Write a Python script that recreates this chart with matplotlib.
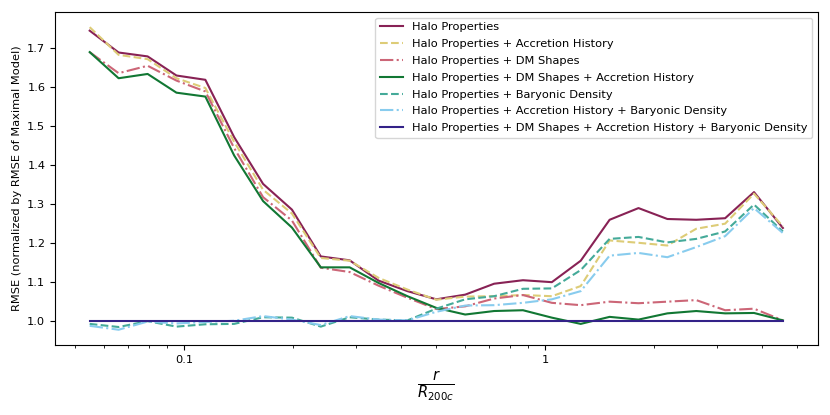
import matplotlib
matplotlib.use("Agg")
import matplotlib.pyplot as plt

plt.rcParams['font.size'] = 8.2

# radial bin centres, r / R200c
r = [0.0548, 0.0659, 0.0793, 0.0953, 0.1146, 0.1377, 0.1656, 0.1991, 0.2393,
     0.2877, 0.3459, 0.4159, 0.5000, 0.6012, 0.7228, 0.8690, 1.0447, 1.2560,
     1.5101, 1.8155, 2.1827, 2.6242, 3.1550, 3.7931, 4.5604]

halo = [1.745, 1.689, 1.679, 1.630, 1.619, 1.472, 1.352, 1.286, 1.166, 1.156,
        1.104, 1.077, 1.056, 1.068, 1.096, 1.105, 1.100, 1.155, 1.260, 1.290,
        1.262, 1.260, 1.264, 1.331, 1.239]
halo_acc = [1.754, 1.683, 1.672, 1.623, 1.598, 1.460, 1.337, 1.276, 1.162, 1.155,
            1.111, 1.081, 1.055, 1.063, 1.064, 1.067, 1.064, 1.090, 1.207, 1.201,
            1.194, 1.237, 1.250, 1.327, 1.243]
halo_dm = [1.690, 1.636, 1.655, 1.617, 1.589, 1.444, 1.318, 1.258, 1.137, 1.126,
           1.091, 1.060, 1.031, 1.038, 1.058, 1.067, 1.047, 1.041, 1.050, 1.046,
           1.050, 1.054, 1.028, 1.032, 1.002]
halo_dm_acc = [1.690, 1.623, 1.634, 1.586, 1.576, 1.425, 1.308, 1.240, 1.138, 1.138,
               1.098, 1.064, 1.034, 1.017, 1.026, 1.028, 1.009, 0.993, 1.011, 1.004,
               1.020, 1.026, 1.020, 1.021, 1.002]
halo_bary = [0.993, 0.985, 1.000, 0.986, 0.992, 0.993, 1.010, 1.009, 0.986, 1.010,
             1.004, 1.002, 1.032, 1.056, 1.064, 1.083, 1.084, 1.131, 1.211, 1.216,
             1.202, 1.211, 1.230, 1.299, 1.230]
halo_acc_bary = [0.988, 0.978, 0.999, 0.994, 0.998, 1.001, 1.013, 1.004, 0.990, 1.013,
                 1.004, 1.002, 1.024, 1.040, 1.041, 1.047, 1.056, 1.077, 1.168, 1.175,
                 1.164, 1.190, 1.218, 1.290, 1.226]
maximal = [1.0, 1.0, 1.0, 1.0, 1.0, 1.0, 1.0, 1.0, 1.0, 1.0, 1.0, 1.0, 1.0,
           1.0, 1.0, 1.0, 1.0, 1.0, 1.0, 1.0, 1.0, 1.0, 1.0, 1.0, 1.0]

series = [
    ("Halo Properties", halo, "#882255", "-"),
    ("Halo Properties + Accretion History", halo_acc, "#DDCC77", "--"),
    ("Halo Properties + DM Shapes", halo_dm, "#CC6677", "-."),
    ("Halo Properties + DM Shapes + Accretion History", halo_dm_acc, "#117733", "-"),
    ("Halo Properties + Baryonic Density", halo_bary, "#44AA99", "--"),
    ("Halo Properties + Accretion History + Baryonic Density", halo_acc_bary, "#88CCEE", "-."),
    ("Halo Properties + DM Shapes + Accretion History + Baryonic Density", maximal, "#332288", "-"),
]

fig, ax = plt.subplots(figsize=(8.3, 4.15), dpi=100)
fig.subplots_adjust(left=0.0663, right=0.985, bottom=0.169, top=0.971)

for label, vals, color, ls in series:
    ax.plot(r, vals, color=color, linestyle=ls, linewidth=1.5, label=label)

ax.set_xscale('log')
ax.set_xticks([0.1, 1])
ax.set_xticklabels(['0.1', '1'])
ax.set_xlabel(r'$\frac{r}{R_{200c}}$', fontsize=15)
ax.set_ylabel('RMSE (normalized by RMSE of Maximal Model)')
ax.legend(loc='upper right', labelspacing=0.6)

fig.savefig('out.png', dpi=100)
